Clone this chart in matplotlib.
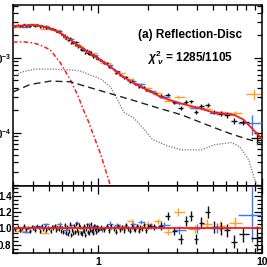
import numpy as np
import matplotlib
matplotlib.use("Agg")
import matplotlib.pyplot as plt
from matplotlib.ticker import LogLocator, FixedLocator, NullFormatter, MultipleLocator

plt.rcParams['font.family'] = ['Liberation Sans', 'DejaVu Sans']
plt.rcParams['mathtext.fontset'] = 'custom'
plt.rcParams['mathtext.rm'] = 'Liberation Sans:bold'
plt.rcParams['mathtext.it'] = 'Liberation Sans:italic:bold'
plt.rcParams['mathtext.bf'] = 'Liberation Sans:bold'

# ---- model components ----
total_x = [0.30, 0.35, 0.40, 0.45, 0.507, 0.585, 0.673, 0.776, 0.893, 1.03, 1.2, 1.42, 1.64,
           2.0, 2.41, 3.21, 4.08, 5.1, 6.8, 7.7, 8.5, 9.7, 10.0]
total_y = [2.67e-3, 2.72e-3, 2.75e-3, 2.65e-3, 2.5e-3, 2.15e-3, 1.75e-3, 1.4e-3, 1.15e-3, 9.4e-4,
           7.4e-4, 5.6e-4, 4.6e-4, 3.7e-4, 3.0e-4, 2.45e-4, 2.15e-4, 1.85e-4, 1.72e-4, 1.5e-4,
           1.2e-4, 8.9e-5, 8.3e-5]

disc_x = [0.30, 0.35, 0.40, 0.44, 0.507, 0.585, 0.673, 0.75, 0.81, 0.87, 0.92, 1.03, 1.18]
disc_y = [1.63e-3, 1.64e-3, 1.58e-3, 1.49e-3, 1.28e-3, 8.6e-4, 5.1e-4, 3.1e-4, 2.0e-4, 1.4e-4,
          1.0e-4, 5.2e-5, 2.0e-5]

refl_x = [0.30, 0.34, 0.41, 0.507, 0.585, 0.673, 0.776, 0.893, 1.03, 1.185, 1.31, 1.42, 1.64,
          1.89, 2.14, 2.63, 3.21, 4.26, 5.12, 6.5, 7.3, 8.3, 8.9, 9.4]
refl_y = [5.6e-4, 6.5e-4, 7.1e-4, 7.1e-4, 7.0e-4, 6.9e-4, 6.7e-4, 5.9e-4, 5.25e-4, 4.1e-4,
          2.76e-4, 1.9e-4, 1.58e-4, 1.13e-4, 8.1e-5, 6.7e-5, 5.9e-5, 5.9e-5, 6.9e-5, 7.4e-5,
          6.5e-5, 4.3e-5, 2.6e-5, 1.9e-5]

pl_x = [0.30, 0.38, 0.507, 0.673, 0.89, 1.2, 1.64, 2.3, 3.21, 4.2, 5.1, 6.5, 8.0, 9.6, 10.0]
pl_y = [3.5e-4, 4.4e-4, 4.9e-4, 4.8e-4, 4.0e-4, 3.3e-4, 2.7e-4, 2.15e-4, 1.74e-4, 1.38e-4,
        1.17e-4, 9.6e-5, 8.3e-5, 7.4e-5, 7.2e-5]

# ---- data: energies, data/model ratios and ratio errors ----
black_x = [0.30, 0.31, 0.32, 0.33, 0.34, 0.35, 0.36, 0.37, 0.38, 0.39,
           0.40, 0.41, 0.42, 0.43, 0.44, 0.45, 0.46, 0.47, 0.48, 0.49,
           0.50, 0.51, 0.52, 0.53, 0.54, 0.55, 0.56, 0.57, 0.58, 0.59, 0.60,
           0.61, 0.62, 0.63, 0.64, 0.65, 0.66, 0.67, 0.68, 0.69, 0.70,
           0.71, 0.72, 0.73, 0.74, 0.75, 0.76, 0.77, 0.78, 0.79, 0.80,
           0.81, 0.82, 0.83, 0.84, 0.85, 0.86, 0.87, 0.88, 0.89, 0.90,
           0.91, 0.92, 0.93, 0.94, 0.95, 0.96, 0.97, 0.98, 0.99, 1.00,
           1.04, 1.08, 1.12, 1.16, 1.20, 1.24, 1.28, 1.32, 1.36, 1.40,
           1.44, 1.48, 1.52, 1.56, 1.60, 1.64, 1.68, 1.72, 1.76, 1.80,
           1.85, 1.90, 1.95, 2.0, 2.08,
           2.2, 2.4, 2.65, 2.9, 3.18, 3.42, 3.67, 3.93, 4.22, 4.66, 5.07, 5.6, 6.1,
           6.7, 7.65, 9.3]
black_r = [1.01, 0.99, 1.02, 0.98, 1.00, 1.03, 0.99, 1.01, 0.97, 1.02,
           1.00, 0.98, 1.02, 1.01, 0.97, 1.03, 0.99, 1.02, 0.98, 1.01,
           1.00, 0.97, 1.02, 1.00, 1.03, 0.98, 1.01, 0.99, 1.02, 0.97, 1.01,
           0.96, 1.04, 0.94, 1.02, 0.93, 0.97, 1.05, 0.92, 0.98, 0.95,
           1.03, 0.96, 1.06, 0.98, 0.94, 1.04, 1.02, 0.95, 0.93, 1.01,
           0.97, 1.03, 0.92, 0.99, 1.04, 0.96, 0.94, 1.02, 0.98, 1.05,
           0.97, 1.00, 0.95, 1.03, 0.99, 1.01, 0.96, 1.02, 1.00, 0.98,
           1.01, 0.99, 1.03, 0.98, 1.02, 1.00, 0.96, 1.03, 0.99, 1.01,
           0.98, 1.04, 1.00, 0.97, 1.02, 1.00, 0.99, 1.03, 0.97, 1.01,
           1.00, 1.04, 0.98, 1.02, 1.03,
           1.02, 1.03, 1.15, 0.97, 0.87, 1.09, 1.15, 0.87, 1.07, 1.20, 1.02, 1.00, 0.98,
           0.84, 0.93, 0.88]
black_e = [0.02] * 31 + [0.025] * 40 + [0.03] * 25 + \
          [0.04, 0.05, 0.05, 0.05, 0.06, 0.06, 0.06, 0.06, 0.07, 0.07, 0.07, 0.08, 0.08,
           0.08, 0.09, 0.15]

blue_x = [0.36, 0.42, 0.48, 0.53, 0.58, 0.63, 0.68, 0.74, 0.80, 0.87, 0.95, 1.05, 1.17,
          1.30, 1.45, 1.62, 1.82, 2.1, 2.5, 3.1, 4.0, 5.3, 8.7]
blue_r = [0.96, 1.03, 1.05, 1.02, 1.06, 0.98, 1.04, 1.07, 0.96, 1.05, 1.03, 0.99, 1.06,
          1.04, 1.02, 1.05, 1.08, 1.03, 1.04, 0.98, 1.00, 1.01, 1.17]
blue_e = [0.02] * 11 + [0.03] * 6 + [0.04, 0.04, 0.05, 0.05, 0.06, 0.34]

orange_x = [0.33, 0.40, 0.47, 0.55, 0.65, 0.75, 0.9, 1.1, 1.35, 1.6, 1.75, 2.0, 2.3,
            2.65, 3.05, 3.9, 4.6, 5.5, 6.8, 8.9]
orange_r = [0.97, 1.02, 0.95, 1.03, 1.01, 0.97, 1.02, 1.01, 1.03, 1.09, 1.02, 1.06, 1.09,
            0.96, 1.20, 0.99, 1.06, 1.03, 1.07, 3.0]
orange_e = [0.02] * 9 + [0.03] * 4 + [0.04, 0.05, 0.05, 0.06, 0.06, 0.07, 0.5]

xticks_major = [1, 10]
xtick_labels = ['1', '10']
res_ticks = [0.8, 1.0, 1.2, 1.4]

label_text = '(a) Reflection-Disc'
chi_text = r'$\chi^2_{\ \nu}$ = 1285/1105'

C_BLACK = '#111111'
C_BLUE = '#3a78ff'
C_ORANGE = '#ffa020'
C_RED = '#ff1a1a'

fig = plt.figure(figsize=(2.67, 2.67), dpi=100)
ax1 = fig.add_axes([13 / 267, 1 - 186 / 267, 249 / 267, 181 / 267])
ax2 = fig.add_axes([13 / 267, 1 - 253 / 267, 249 / 267, 67 / 267], sharex=ax1)


def model_at(x):
    return 10 ** np.interp(np.log10(x), np.log10(total_x), np.log10(total_y))


def half_bins(x):
    x = np.asarray(x, float)
    lx = np.log10(x)
    edges = np.concatenate([[lx[0] - (lx[1] - lx[0]) / 2], (lx[1:] + lx[:-1]) / 2,
                            [lx[-1] + (lx[-1] - lx[-2]) / 2]])
    lo = x - 10 ** edges[:-1]
    hi = 10 ** edges[1:] - x
    return np.vstack([lo, hi])


for xs, rs, es, col, z in [(orange_x, orange_r, orange_e, C_ORANGE, 2),
                           (blue_x, blue_r, blue_e, C_BLUE, 3),
                           (black_x, black_r, black_e, C_BLACK, 4)]:
    xs = np.asarray(xs, float)
    rs = np.asarray(rs, float)
    es = np.asarray(es, float)
    m = model_at(xs)
    xe = half_bins(xs) * 0.8
    ax1.errorbar(xs, m * rs, xerr=xe, yerr=m * es, fmt='none', ecolor=col, elinewidth=1.0,
                 capsize=0, zorder=z)
    ax2.errorbar(xs, rs, xerr=xe, yerr=es, fmt='none', ecolor=col, elinewidth=1.0,
                 capsize=0, zorder=z)

ax1.plot(total_x, total_y, color=C_RED, lw=1.3, zorder=6)
ax1.plot(disc_x, disc_y, color=C_RED, lw=1.1, ls=(0, (3, 1.5, 1, 1.5)), zorder=5)
ax1.plot(refl_x, refl_y, color='#777777', lw=0.9, ls=(0, (1, 1.2)), zorder=5)
ax1.plot(pl_x, pl_y, color='#222222', lw=1.0, ls=(0, (5, 3)), zorder=5)
ax2.axhline(1.0, color=C_RED, lw=1.3, zorder=6)

ax1.set_xscale('log')
ax1.set_yscale('log')
ax1.set_xlim(0.3, 10)
ax1.set_ylim(1.94e-5, 5.1e-3)
ax2.set_ylim(0.70, 1.52)

for ax in (ax1, ax2):
    ax.tick_params(which='both', direction='in', top=True, right=True, width=0.9,
                   labelsize=7, pad=1)
    ax.tick_params(which='major', length=6)
    ax.tick_params(which='minor', length=3.5)
    for s in ax.spines.values():
        s.set_linewidth(1.1)
    for lab in ax.get_yticklabels() + ax.get_xticklabels():
        lab.set_fontweight('bold')

ax1.xaxis.set_major_locator(FixedLocator(xticks_major))
ax1.xaxis.set_minor_locator(LogLocator(base=10, subs=np.arange(2, 10)))
ax1.yaxis.set_minor_locator(LogLocator(base=10, subs=np.arange(2, 10)))
ax1.yaxis.set_minor_formatter(NullFormatter())
plt.setp(ax1.get_xticklabels(), visible=False)
ax1.xaxis.set_minor_formatter(NullFormatter())

ax2.set_xticks(xticks_major)
ax2.set_xticklabels(xtick_labels, fontweight='bold')
ax2.xaxis.set_minor_formatter(NullFormatter())
ax2.set_yticks(res_ticks)
ax2.set_yticklabels(['%.1f' % v for v in res_ticks], fontweight='bold')
ax2.yaxis.set_minor_locator(MultipleLocator(0.05))
ax2.tick_params(axis='x', pad=3, labelsize=7.5)

ax1.text(0.71, 0.834, label_text, transform=ax1.transAxes, ha='center', va='center',
         fontsize=8.5, fontweight='bold')
ax1.text(0.71, 0.71, chi_text, transform=ax1.transAxes, ha='center', va='center',
         fontsize=8.5, fontweight='bold')

fig.savefig('out.png', dpi=100)
